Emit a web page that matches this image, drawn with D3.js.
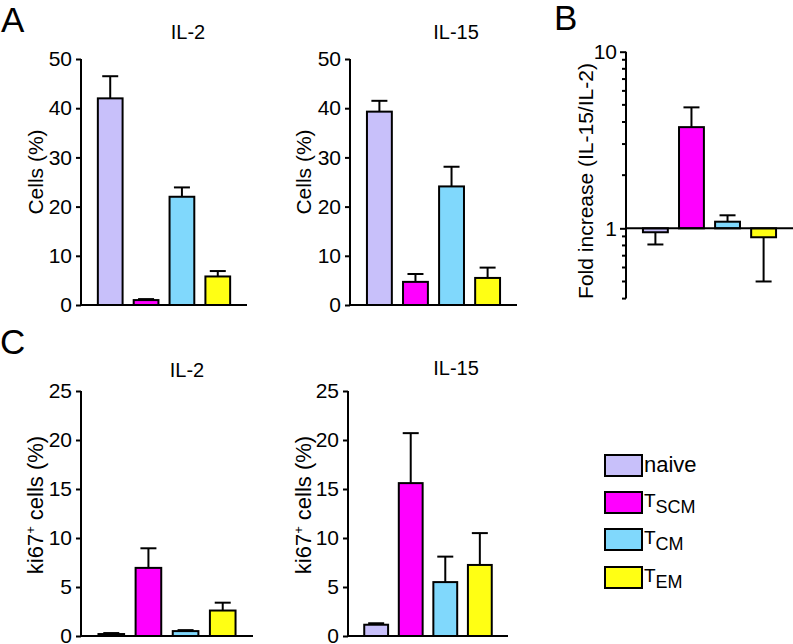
<!DOCTYPE html>
<html><head><meta charset="utf-8">
<script src="https://cdn.jsdelivr.net/npm/d3@7"></script>
<style>
body{margin:0;background:#fff}
svg text{font-family:"Liberation Sans",Arial,Helvetica,sans-serif;fill:#000}
</style>
</head><body><svg id="chart" width="793" height="644"></svg>
<script>
// ---------- data ----------
const categories = ["naive", "TSCM", "TCM", "TEM"];
const barColors = ["#c8c0fa", "#ff00ff", "#80d8fc", "#ffff14"];

const il2Cells = [42.0, 1.0, 22.0, 5.8];
const il2CellsErr = [46.5, 1.2, 23.9, 6.9];
const il15Cells = [39.3, 4.7, 24.1, 5.5];
const il15CellsErr = [41.5, 6.3, 28.1, 7.6];

const foldIncrease = [0.95, 3.74, 1.09, 0.89];
const foldIncreaseErr = [0.81, 4.84, 1.185, 0.50];

const il2Ki67 = [0.2, 6.95, 0.5, 2.6];
const il2Ki67Err = [0.3, 8.95, 0.6, 3.4];
const il15Ki67 = [1.15, 15.6, 5.5, 7.25];
const il15Ki67Err = [1.3, 20.7, 8.1, 10.5];

const cellTicks = [0, 10, 20, 30, 40, 50];
const ki67Ticks = [0, 5, 10, 15, 20, 25];
const foldTicks = [1, 10];
const foldMinorTicks = [0.4, 0.5, 0.6, 0.7, 0.8, 0.9, 2, 3, 4, 5, 6, 7, 8, 9];

const legendMain = ["naive", "T", "T", "T"];
const legendSub = ["", "SCM", "CM", "EM"];

// ---------- drawing ----------
const svg = d3.select("#chart");
const FS = 21;

function xBand(x0, x1) {
  return d3.scaleBand().domain(categories).range([x0, x1]).paddingInner(0.31).paddingOuter(0.47);
}

function drawErrors(g, x, y, vals, errs) {
  const cap = 8;
  categories.forEach((c, i) => {
    const cx = x(c) + x.bandwidth() / 2;
    g.append("line").attr("x1", cx).attr("x2", cx).attr("y1", y(vals[i])).attr("y2", y(errs[i]))
      .attr("stroke", "#000").attr("stroke-width", 2);
    g.append("line").attr("x1", cx - cap).attr("x2", cx + cap).attr("y1", y(errs[i])).attr("y2", y(errs[i]))
      .attr("stroke", "#000").attr("stroke-width", 2);
  });
}

function styleAxis(ag) {
  ag.select(".domain").attr("stroke-width", 2);
  ag.selectAll(".tick line").attr("stroke-width", 2);
  ag.selectAll(".tick text").attr("font-size", FS).attr("font-family", "Liberation Sans, Arial, sans-serif");
}

function linearPanel(o) {
  const g = svg.append("g");
  const x = xBand(o.x0, o.x1);
  const y = d3.scaleLinear().domain([0, o.max]).range([o.yBottom, o.yTop]);
  drawErrors(g, x, y, o.values, o.errs);
  g.selectAll("rect.bar").data(o.values).join("rect")
    .attr("x", (d, i) => x(categories[i]))
    .attr("width", x.bandwidth())
    .attr("y", d => y(d))
    .attr("height", d => o.yBottom - y(d))
    .attr("fill", (d, i) => barColors[i])
    .attr("stroke", "#000").attr("stroke-width", 2);
  const ax = g.append("g").attr("transform", `translate(${o.x0},0)`)
    .call(d3.axisLeft(y).tickValues(o.ticks).tickSize(5).tickSizeOuter(0).tickPadding(4));
  ax.select(".domain").attr("d", `M0,${o.yTop}V${o.yBottom}`);
  styleAxis(ax);
  g.append("line").attr("x1", o.x0 - 1).attr("x2", o.x1).attr("y1", o.yBottom).attr("y2", o.yBottom)
    .attr("stroke", "#000").attr("stroke-width", 2);
  g.append("text").attr("x", o.titleX).attr("y", o.titleY).attr("text-anchor", "middle")
    .attr("font-size", FS - 1).text(o.title);
  const lab = g.append("text").attr("transform", `translate(${o.labX},${o.labY}) rotate(-90)`)
    .attr("text-anchor", "middle").attr("font-size", o.ki67 ? 22 : FS);
  if (o.ki67) {
    lab.append("tspan").text("ki67");
    lab.append("tspan").attr("font-size", 13).attr("dy", -8).text("+");
    lab.append("tspan").attr("dy", 8).text(" cells (%)");
  } else {
    lab.text(o.label);
  }
}

// Panel A
linearPanel({x0: 81, x1: 247, yTop: 59, yBottom: 305, max: 50, ticks: cellTicks,
  values: il2Cells, errs: il2CellsErr, title: "IL-2", titleX: 188, titleY: 39,
  label: "Cells (%)", labX: 43, labY: 172});
linearPanel({x0: 350, x1: 517, yTop: 59, yBottom: 305, max: 50, ticks: cellTicks,
  values: il15Cells, errs: il15CellsErr, title: "IL-15", titleX: 456, titleY: 39,
  label: "Cells (%)", labX: 311, labY: 172});

// Panel C
linearPanel({x0: 81, x1: 253, yTop: 391, yBottom: 636, max: 25, ticks: ki67Ticks,
  values: il2Ki67, errs: il2Ki67Err, title: "IL-2", titleX: 187, titleY: 377,
  ki67: true, labX: 43, labY: 505});
linearPanel({x0: 348, x1: 508, yTop: 391, yBottom: 636, max: 25, ticks: ki67Ticks,
  values: il15Ki67, errs: il15Ki67Err, title: "IL-15", titleX: 456, titleY: 375,
  ki67: true, labX: 311, labY: 505});

// Panel B (log)
(function () {
  const g = svg.append("g");
  const x0 = 626, x1 = 793;
  const x = xBand(x0, x1);
  const y = d3.scaleLog().domain([0.4, 10]).range([298.6, 51.7]);
  const base = y(1);
  drawErrors(g, x, y, foldIncrease, foldIncreaseErr);
  g.selectAll("rect.bar").data(foldIncrease).join("rect")
    .attr("x", (d, i) => x(categories[i]))
    .attr("width", x.bandwidth())
    .attr("y", d => Math.min(y(d), base))
    .attr("height", d => Math.abs(y(d) - base))
    .attr("fill", (d, i) => barColors[i])
    .attr("stroke", "#000").attr("stroke-width", 2);
  const ax = g.append("g").attr("transform", `translate(${x0},0)`)
    .call(d3.axisLeft(y).tickValues(foldTicks).tickFormat(d3.format("d")).tickSize(6).tickSizeOuter(0).tickPadding(3));
  ax.select(".domain").attr("d", `M0,${y(10)}V${y(0.4)}`);
  styleAxis(ax);
  g.selectAll("line.minor").data(foldMinorTicks).join("line")
    .attr("x1", x0 - 4).attr("x2", x0).attr("y1", d => y(d)).attr("y2", d => y(d))
    .attr("stroke", "#000").attr("stroke-width", 2);
  g.append("line").attr("x1", x0).attr("x2", x1).attr("y1", base).attr("y2", base)
    .attr("stroke", "#000").attr("stroke-width", 2);
  g.append("text").attr("transform", `translate(593,181) rotate(-90)`)
    .attr("text-anchor", "middle").attr("font-size", FS).text("Fold increase (IL-15/IL-2)");
})();

// Panel letters
[["A", 1, 32], ["B", 554, 30], ["C", 0, 354]].forEach(([t, x, y]) => {
  svg.append("text").attr("x", x).attr("y", y).attr("font-size", 35).text(t);
});

// Legend
const legTop = [455, 492, 529, 567];
const lg = svg.append("g");
categories.forEach((c, i) => {
  lg.append("rect").attr("x", 605).attr("y", legTop[i]).attr("width", 37).attr("height", 21)
    .attr("fill", barColors[i]).attr("stroke", "#000").attr("stroke-width", 2);
  const t = lg.append("text").attr("x", 644).attr("y", legTop[i] + 17).attr("font-size", 22);
  if (legendSub[i]) {
    t.append("tspan").attr("font-size", 19).attr("dy", -2).text(legendMain[i]);
    t.append("tspan").attr("dy", 6).attr("font-size", 18).text(legendSub[i]);
  } else {
    t.text(legendMain[i]);
  }
});
</script>
</body></html>
